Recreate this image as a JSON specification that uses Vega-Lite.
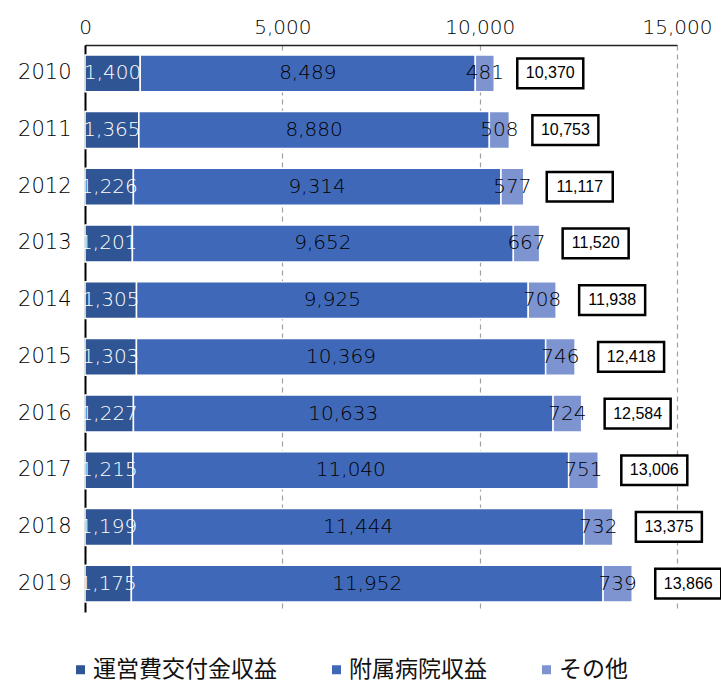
{
  "$schema": "https://vega.github.io/schema/vega-lite/v6.json",
  "width": 592,
  "height": 567,
  "autosize": {"type": "none"},
  "padding": {"left": 85, "top": 45, "right": 44, "bottom": 72},
  "config": {
    "view": {"stroke": null},
    "font": "DejaVu Sans",
    "axis": {"labelFont": "DejaVu Sans", "labelFontSize": 20, "labelFontWeight": 200, "labelColor": "#000000"}
  },
  "datasets": {
    "parts": [
      {"year": "2010", "series": "運営費交付金収益", "k": 1, "value": 1400},
      {"year": "2010", "series": "附属病院収益", "k": 2, "value": 8489},
      {"year": "2010", "series": "その他", "k": 3, "value": 481},
      {"year": "2011", "series": "運営費交付金収益", "k": 1, "value": 1365},
      {"year": "2011", "series": "附属病院収益", "k": 2, "value": 8880},
      {"year": "2011", "series": "その他", "k": 3, "value": 508},
      {"year": "2012", "series": "運営費交付金収益", "k": 1, "value": 1226},
      {"year": "2012", "series": "附属病院収益", "k": 2, "value": 9314},
      {"year": "2012", "series": "その他", "k": 3, "value": 577},
      {"year": "2013", "series": "運営費交付金収益", "k": 1, "value": 1201},
      {"year": "2013", "series": "附属病院収益", "k": 2, "value": 9652},
      {"year": "2013", "series": "その他", "k": 3, "value": 667},
      {"year": "2014", "series": "運営費交付金収益", "k": 1, "value": 1305},
      {"year": "2014", "series": "附属病院収益", "k": 2, "value": 9925},
      {"year": "2014", "series": "その他", "k": 3, "value": 708},
      {"year": "2015", "series": "運営費交付金収益", "k": 1, "value": 1303},
      {"year": "2015", "series": "附属病院収益", "k": 2, "value": 10369},
      {"year": "2015", "series": "その他", "k": 3, "value": 746},
      {"year": "2016", "series": "運営費交付金収益", "k": 1, "value": 1227},
      {"year": "2016", "series": "附属病院収益", "k": 2, "value": 10633},
      {"year": "2016", "series": "その他", "k": 3, "value": 724},
      {"year": "2017", "series": "運営費交付金収益", "k": 1, "value": 1215},
      {"year": "2017", "series": "附属病院収益", "k": 2, "value": 11040},
      {"year": "2017", "series": "その他", "k": 3, "value": 751},
      {"year": "2018", "series": "運営費交付金収益", "k": 1, "value": 1199},
      {"year": "2018", "series": "附属病院収益", "k": 2, "value": 11444},
      {"year": "2018", "series": "その他", "k": 3, "value": 732},
      {"year": "2019", "series": "運営費交付金収益", "k": 1, "value": 1175},
      {"year": "2019", "series": "附属病院収益", "k": 2, "value": 11952},
      {"year": "2019", "series": "その他", "k": 3, "value": 739}
    ],
    "totals": [
      {"year": "2010", "total": 10370},
      {"year": "2011", "total": 10753},
      {"year": "2012", "total": 11117},
      {"year": "2013", "total": 11520},
      {"year": "2014", "total": 11938},
      {"year": "2015", "total": 12418},
      {"year": "2016", "total": 12584},
      {"year": "2017", "total": 13006},
      {"year": "2018", "total": 13375},
      {"year": "2019", "total": 13866}
    ]
  },
  "encoding": {
    "y": {
      "field": "year", "type": "ordinal", "sort": "ascending",
      "scale": {"paddingInner": 0.35, "paddingOuter": 0.175},
      "axis": {"title": null, "ticks": false, "domainColor": "#000000", "domainWidth": 2, "labelPadding": 14, "labelFontSize": 21}
    }
  },
  "layer": [
    {
      "data": {"name": "parts"},
      "mark": {"type": "bar", "stroke": "white", "strokeWidth": 1.5},
      "encoding": {
        "x": {
          "field": "value", "type": "quantitative", "stack": "zero",
          "scale": {"domain": [0, 15000], "nice": false},
          "axis": {
            "orient": "top", "title": null, "values": [0, 5000, 10000, 15000], "format": ",d",
            "ticks": false, "labelPadding": 8, "labelFlush": false, "domainColor": "#222222", "domainWidth": 1.5,
            "grid": true, "gridDash": [5, 4], "gridColor": "#a0a0a0", "gridWidth": 1.2
          }
        },
        "color": {
          "field": "series", "type": "nominal",
          "scale": {"domain": ["運営費交付金収益", "附属病院収益", "その他"], "range": ["#305594", "#3F69B8", "#7D94D1"]},
          "legend": {
            "title": null, "orient": "none", "legendX": -16, "legendY": 613, "direction": "horizontal",
            "symbolType": "square", "symbolSize": 81, "symbolStrokeWidth": 0,
            "labelFont": "Noto Sans CJK JP", "labelFontSize": 23, "labelColor": "#111111",
            "labelOffset": 1, "columnPadding": 48, "padding": 0, "labelLimit": 400
          }
        },
        "order": {"field": "k", "type": "quantitative"}
      }
    },
    {
      "data": {"name": "parts"},
      "mark": {"type": "text", "fontSize": 20, "fontWeight": 200, "font": "DejaVu Sans", "align": "center", "baseline": "middle"},
      "encoding": {
        "x": {"field": "value", "type": "quantitative", "stack": "zero", "bandPosition": 0.5},
        "text": {"field": "value", "type": "quantitative", "format": ","},
        "order": {"field": "k", "type": "quantitative"},
        "color": {
          "condition": {"test": "datum.k === 1", "value": "white"},
          "value": "black"
        }
      }
    },
    {
      "data": {"name": "totals"},
      "mark": {
        "type": "point", "shape": "M-1,-0.45L1,-0.45L1,0.45L-1,0.45Z", "size": 4356,
        "filled": true, "fill": "white", "stroke": "black", "strokeWidth": 2.5, "opacity": 1, "xOffset": 56
      },
      "encoding": {
        "x": {"field": "total", "type": "quantitative"}
      }
    },
    {
      "data": {"name": "totals"},
      "mark": {"type": "text", "font": "Liberation Sans", "fontSize": 16, "dx": 56, "align": "center", "baseline": "middle", "color": "black"},
      "encoding": {
        "x": {"field": "total", "type": "quantitative"},
        "text": {"field": "total", "type": "quantitative", "format": ","}
      }
    }
  ]
}
